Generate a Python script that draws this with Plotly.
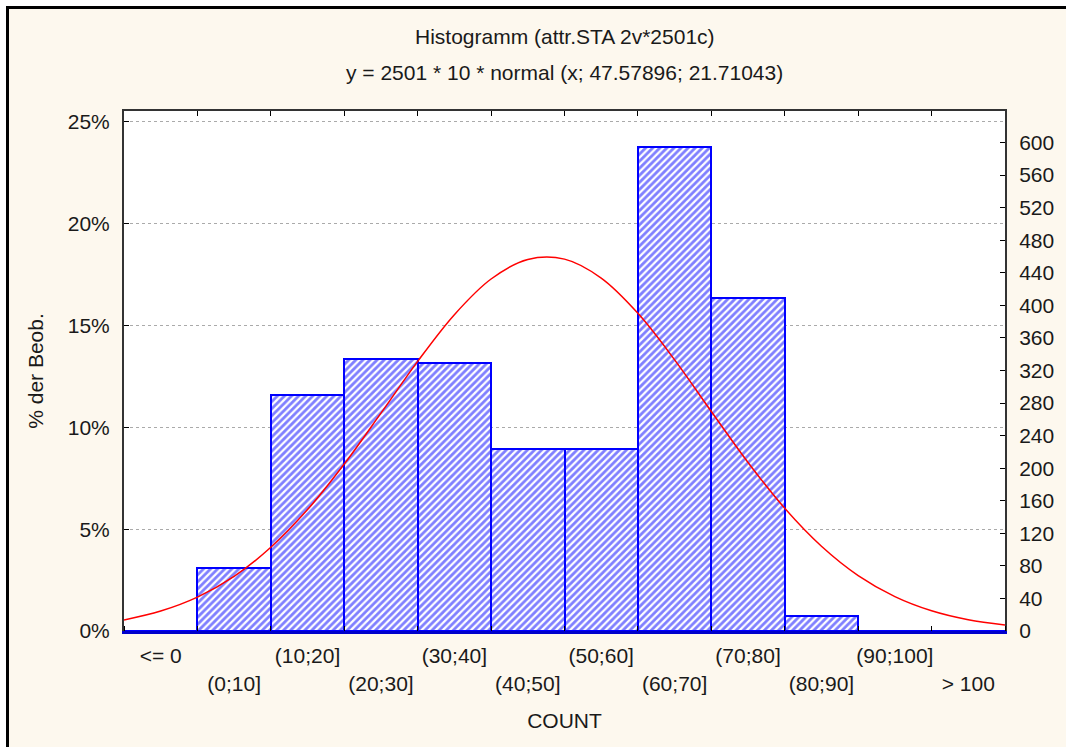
import plotly.graph_objects as go

# --- data ---
N = 2501
categories = ["<= 0", "(0;10]", "(10;20]", "(20;30]", "(30;40]", "(40;50]",
              "(50;60]", "(60;70]", "(70;80]", "(80;90]", "(90;100]", "> 100"]
counts = [0, 77, 290, 334, 329, 224, 224, 595, 409, 18, 0, 0]

# fitted normal curve (counts), sampled at COUNT values
curve_x = [-10, -5, 0, 5, 10, 15, 20, 25, 30, 35, 40, 45, 50, 55, 60, 65,
           70, 75, 80, 85, 90, 95, 100, 105, 110]
curve_y = [13.6, 24.5, 41.6, 67.1, 102.8, 149.1, 205.1, 267.6, 331.2, 388.6,
           432.4, 456.4, 456.8, 433.5, 390.2, 333.1, 269.6, 207.0, 150.7,
           104.1, 68.1, 42.3, 24.9, 13.9, 7.4]

pct_ticks = [0, 5, 10, 15, 20, 25]
count_ticks = list(range(0, 601, 40))

# --- layout geometry (pixels) ---
W, H = 1066, 747
L, R, T, B = 124, 1005, 111, 631
Y_TOP_PCT = 25.54
CREAM = "#FDF8EE"
FONT = "Liberation Sans"
FS = 21


def px(xp):
    return (xp - L) / (R - L)


def py(yp):
    return (B - yp) / (B - T)


pos = list(range(len(categories)))
pct = [c / N * 100 for c in counts]
edges = [p - 0.5 for p in pos] + [pos[-1] + 0.5]
curve_pos = [(v + 5) / 10 for v in curve_x]

fig = go.Figure()
fig.add_trace(go.Bar(
    x=pos, y=pct, width=1, xaxis="x", yaxis="y",
    marker=dict(color="white",
                line=dict(color="#0000FF", width=2),
                pattern=dict(shape="/", fgcolor="#0000FF", bgcolor="white",
                             size=5, solidity=0.55)),
    hoverinfo="skip", showlegend=False,
))
fig.add_trace(go.Scatter(
    x=curve_pos, y=curve_y, xaxis="x2", yaxis="y2", mode="lines",
    line=dict(color="#FF0000", width=1.5, shape="spline"),
    hoverinfo="skip", showlegend=False,
))

axfont = dict(family=FONT, size=FS, color="#1a1a1a")
fig.update_layout(
    width=W, height=H,
    margin=dict(l=L, r=W - R, t=T, b=H - B, pad=0),
    paper_bgcolor=CREAM, plot_bgcolor="white",
    font=axfont, bargap=0,
    xaxis=dict(
        range=[-0.5, 11.5], tickmode="array", tickvals=pos,
        ticktext=[c if i % 2 == 0 else "<br>" + c for i, c in enumerate(categories)],
        ticks="", showgrid=False, zeroline=False,
        showline=True, linecolor="#0000CC", linewidth=3,
        minor=dict(tickmode="array", tickvals=edges, ticks="inside",
                   ticklen=5, tickcolor="black", tickwidth=1, showgrid=False),
        tickfont=axfont, ticklabelstandoff=4,
        title=dict(text="COUNT", font=axfont, standoff=20),
    ),
    xaxis2=dict(
        overlaying="x", side="top", anchor="y",
        range=[-0.5, 11.5], tickmode="array", tickvals=edges,
        ticks="inside", ticklen=5, tickcolor="black", showticklabels=False,
        showgrid=False, zeroline=False,
        showline=True, linecolor="#333333", linewidth=2,
    ),
    yaxis=dict(
        range=[0, Y_TOP_PCT], tickmode="array", tickvals=pct_ticks,
        ticktext=[f"{v}%" for v in pct_ticks],
        ticks="inside", ticklen=5, tickcolor="black",
        showgrid=True, gridcolor="#AAAAAA", griddash="dot", gridwidth=1,
        zeroline=False, showline=True, linecolor="#333333", linewidth=2,
        tickfont=axfont, ticklabelstandoff=8,
        title=dict(text="% der Beob.", font=axfont, standoff=18),
    ),
    yaxis2=dict(
        overlaying="y", side="right", anchor="x",
        range=[0, Y_TOP_PCT * N / 100], tickmode="array", tickvals=count_ticks,
        ticks="inside", ticklen=5, tickcolor="black",
        showgrid=False, zeroline=False,
        showline=True, linecolor="#333333", linewidth=2,
        tickfont=axfont, ticklabelstandoff=8,
    ),
    annotations=[
        dict(text="Histogramm (attr.STA 2v*2501c)", xref="paper", yref="paper",
             x=0.5, y=py(36), xanchor="center", yanchor="middle",
             showarrow=False, font=axfont),
        dict(text="y = 2501 * 10 * normal (x; 47.57896; 21.71043)",
             xref="paper", yref="paper",
             x=0.5, y=py(72), xanchor="center", yanchor="middle",
             showarrow=False, font=axfont),
    ],
    shapes=[
        # white strips outside the panel frame
        dict(type="rect", xref="paper", yref="paper", layer="below",
             x0=px(0), x1=px(W), y0=py(0), y1=py(6),
             fillcolor="white", line=dict(width=0)),
        dict(type="rect", xref="paper", yref="paper", layer="below",
             x0=px(0), x1=px(6), y0=py(0), y1=py(H),
             fillcolor="white", line=dict(width=0)),
        # black panel edges
        dict(type="line", xref="paper", yref="paper", layer="above",
             x0=px(6), x1=px(W), y0=py(7.5), y1=py(7.5),
             line=dict(color="black", width=3)),
        dict(type="line", xref="paper", yref="paper", layer="above",
             x0=px(7.5), x1=px(7.5), y0=py(6), y1=py(H),
             line=dict(color="black", width=3)),
    ],
)

# page margin off so the figure sits at the window origin
fig.write_html("out.html",
               config={"displayModeBar": False},
               post_script="document.body.style.margin='0';"
                           "document.body.style.overflow='hidden';")
